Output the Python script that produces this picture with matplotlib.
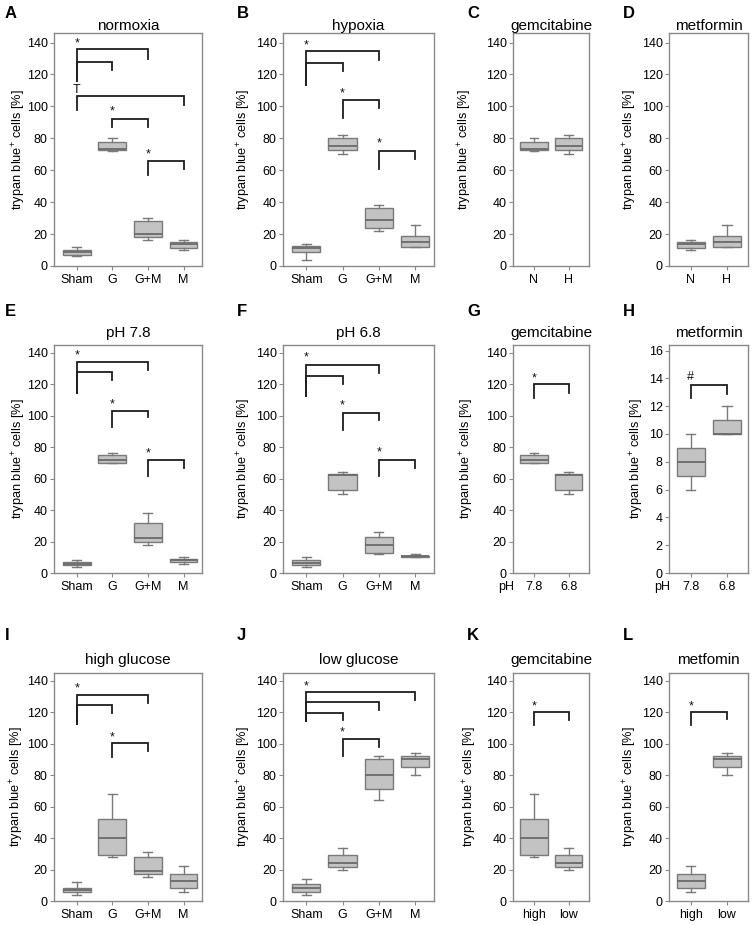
import matplotlib
matplotlib.use("Agg")
import matplotlib.pyplot as plt

plt.rcParams['font.family'] = ['Liberation Sans', 'DejaVu Sans']
plt.rcParams['mathtext.fontset'] = 'custom'
plt.rcParams['mathtext.rm'] = 'Liberation Sans'
plt.rcParams['mathtext.it'] = 'Liberation Sans:italic'
plt.rcParams['mathtext.bf'] = 'Liberation Sans:bold'

FIG_W, FIG_H = 752, 925

BOX_FILL = "#c3c3c3"
BOX_EDGE = "#7a7a7a"
MEDIAN = "#6a6a6a"
SPINE = "#8a8a8a"
BRACKET = "#1e1e1e"

# group labels
groups4 = ["Sham", "G", "G+M", "M"]
groups_nh = ["N", "H"]
groups_ph = ["7.8", "6.8"]
groups_glc = ["high", "low"]

# box summaries per group: [whisker low, q1, median, q3, whisker high]
normoxia = [[6, 7, 8.5, 10, 12], [72, 73, 73.5, 78, 80], [16, 18, 20, 28, 30], [10, 11, 14, 15, 16]]
hypoxia = [[4, 9, 11, 12.5, 14], [70, 73, 75, 80.5, 82], [22, 23.5, 29, 36.5, 38], [12, 12, 15, 18.5, 26]]
gem_nh = [[72, 73, 73.5, 78, 80], [70, 73, 75, 80.5, 82]]
met_nh = [[10, 11, 14, 15, 16], [12, 12, 15, 18.5, 26]]

ph78 = [[4, 5, 6, 7, 8], [70, 70, 72, 75, 76], [18, 20, 22, 32, 38], [6, 7, 8, 9, 10]]
ph68 = [[4, 5, 6.5, 8, 10], [50, 53, 62.5, 63, 64], [12, 13, 18, 23, 26], [10, 10, 10.5, 11, 12]]
gem_ph = [[70, 70, 72, 75, 76], [50, 53, 62.5, 63, 64]]
met_ph = [[6, 7, 8, 9, 10], [10, 10, 10, 11, 12]]

high_glc = [[4, 5.5, 7, 8.5, 12], [28, 29, 40, 52, 68], [15, 17, 19, 28, 31], [6, 8, 13, 17, 22]]
low_glc = [[4, 5.5, 8, 11, 14], [20, 21.5, 24, 29.5, 34], [64, 71.5, 80, 90.5, 92], [80, 85, 90, 92.5, 94]]
gem_glc = [[28, 29, 40, 52, 68], [20, 21.5, 24, 29.5, 34]]
met_glc = [[6, 8, 13, 17, 22], [80, 85, 90, 92.5, 94]]

# significance brackets: (from, to, bar height, left end, right end)
br_normoxia = [(0, 2, 136, 116, 130), (0, 1, 128, 116, 123), (0, 3, 106.6, 97.5, 101),
               (1, 2, 92.4, 87, 87), (2, 3, 65.6, 57, 61)]
mk_normoxia = [(0, 139.5, "*"), (0, 110, "T"), (1, 97, "*"), (2, 70, "*")]
br_hypoxia = [(0, 2, 134.6, 113.6, 129), (0, 1, 127.4, 113.6, 122), (1, 2, 103.8, 93, 99), (2, 3, 72.2, 61, 67)]
mk_hypoxia = [(0, 138.5, "*"), (1, 108, "*"), (2, 76.5, "*")]
br_ph78 = [(0, 2, 134.5, 114.4, 129), (0, 1, 128, 114.4, 123), (1, 2, 103, 92.6, 99), (2, 3, 71.6, 61.4, 66.7)]
mk_ph78 = [(0, 138.5, "*"), (1, 107, "*"), (2, 76, "*")]
br_ph68 = [(0, 2, 132.4, 112.3, 127.5), (0, 1, 125.6, 112.3, 120.3), (1, 2, 101.7, 91, 97), (2, 3, 72, 61.4, 66.7)]
mk_ph68 = [(0, 137, "*"), (1, 106.5, "*"), (2, 76.5, "*")]
br_gem_ph = [(0, 1, 120, 111.6, 114.4)]
mk_gem_ph = [(0, 124, "*")]
br_met_ph = [(0, 1, 13.5, 12.6, 12.9)]
mk_met_ph = [(0, 14.1, "#")]
br_high = [(0, 2, 131, 112.5, 126), (0, 1, 124.6, 112.5, 119.7), (1, 2, 100.2, 91.3, 95.5)]
mk_high = [(0, 135, "*"), (1, 104, "*")]
br_low = [(0, 3, 133, 114.4, 127.8), (0, 2, 126.3, 114.4, 121.4), (0, 1, 119.7, 114.4, 115), (1, 2, 103, 92, 98)]
mk_low = [(0, 136.5, "*"), (1, 107, "*")]
br_gem_glc = [(0, 1, 120.3, 111.9, 115)]
mk_gem_glc = [(0, 124, "*")]
br_met_glc = [(0, 1, 120.3, 112, 115.7)]
mk_met_glc = [(0, 124, "*")]

# layout in pixels
cols = [(54, 202), (283, 434), (513, 589), (669, 748)]
rows = [(33, 266), (345, 573), (673, 901)]
letter_x = [5, 237, 467, 623]
letter_y = [13, 311, 635]
ylabel_x = [[19, 244, 465, 630], [19, 244, 467, 637], [17, 244, 470, 630]]
title_pad = [3, 8, 9]

fig = plt.figure(figsize=(FIG_W / 100, FIG_H / 100), dpi=100)


def draw_panel(r, c, letter, title, stats, labels, brackets, marks,
               ymax=146, yticks=range(0, 141, 20), ph=False):
    x0, x1 = cols[c]
    y0, y1 = rows[r]
    ax = fig.add_axes([x0 / FIG_W, 1 - y1 / FIG_H, (x1 - x0) / FIG_W, (y1 - y0) / FIG_H])
    bstats = [dict(whislo=s[0], q1=s[1], med=s[2], q3=s[3], whishi=s[4], fliers=[]) for s in stats]
    n = len(stats)
    ax.bxp(bstats, positions=list(range(n)), widths=0.78, patch_artist=True, showfliers=False,
           capwidths=0.25,
           boxprops=dict(facecolor=BOX_FILL, edgecolor=BOX_EDGE, linewidth=1),
           medianprops=dict(color=MEDIAN, linewidth=1.3),
           whiskerprops=dict(color=BOX_EDGE, linewidth=1),
           capprops=dict(color=BOX_EDGE, linewidth=1))
    for i, j, h, le, re in brackets:
        ax.plot([i, i, j, j], [le, h, h, re], color=BRACKET, lw=1.3, solid_joinstyle='miter')
    for i, y, s in marks:
        ax.text(i, y, s, ha='center', va='center', fontsize=9, color='#111111')

    if n == 4:
        ax.set_xlim(-0.64, 3.52)
    else:
        ax.set_xlim(-0.6, 1.58)
    ax.set_ylim(0, ymax)
    ax.set_xticks(range(n))
    ax.set_xticklabels(labels)
    ax.set_yticks(list(yticks))
    ax.tick_params(direction='out', length=3, width=0.8, color=SPINE, labelsize=9, pad=3)
    ax.tick_params(axis='y', pad=1.5)
    for sp in ax.spines.values():
        sp.set_color(SPINE)
        sp.set_linewidth(1)

    ax.annotate(title, xy=(0.5, 1), xycoords='axes fraction', xytext=(0, title_pad[r]),
                textcoords='offset pixels', ha='center', va='baseline', fontsize=11)
    ax.set_ylabel("trypan blue$^{+}$ cells [%]", fontsize=9.2)
    ax.yaxis.set_label_coords((ylabel_x[r][c] - x0) / (x1 - x0), 0.5)
    ax.yaxis.label.set_verticalalignment('center')
    if ph:
        ax.annotate("pH", xy=(0, 0), xycoords='axes fraction', xytext=(-7, -14),
                    textcoords='offset pixels', ha='center', va='center', fontsize=9)
    fig.text(letter_x[c] / FIG_W, 1 - letter_y[r] / FIG_H, letter, ha='left', va='center',
             fontsize=12, fontweight='bold')
    return ax


draw_panel(0, 0, "A", "normoxia", normoxia, groups4, br_normoxia, mk_normoxia)
draw_panel(0, 1, "B", "hypoxia", hypoxia, groups4, br_hypoxia, mk_hypoxia)
draw_panel(0, 2, "C", "gemcitabine", gem_nh, groups_nh, [], [])
draw_panel(0, 3, "D", "metformin", met_nh, groups_nh, [], [])

draw_panel(1, 0, "E", "pH 7.8", ph78, groups4, br_ph78, mk_ph78, ymax=145)
draw_panel(1, 1, "F", "pH 6.8", ph68, groups4, br_ph68, mk_ph68, ymax=145)
draw_panel(1, 2, "G", "gemcitabine", gem_ph, groups_ph, br_gem_ph, mk_gem_ph, ymax=145, ph=True)
draw_panel(1, 3, "H", "metformin", met_ph, groups_ph, br_met_ph, mk_met_ph,
           ymax=16.4, yticks=range(0, 17, 2), ph=True)

draw_panel(2, 0, "I", "high glucose", high_glc, groups4, br_high, mk_high, ymax=145)
draw_panel(2, 1, "J", "low glucose", low_glc, groups4, br_low, mk_low, ymax=145)
draw_panel(2, 2, "K", "gemcitabine", gem_glc, groups_glc, br_gem_glc, mk_gem_glc, ymax=145)
draw_panel(2, 3, "L", "metfomin", met_glc, groups_glc, br_met_glc, mk_met_glc, ymax=145)

fig.savefig("out.png", dpi=100, facecolor='white')
